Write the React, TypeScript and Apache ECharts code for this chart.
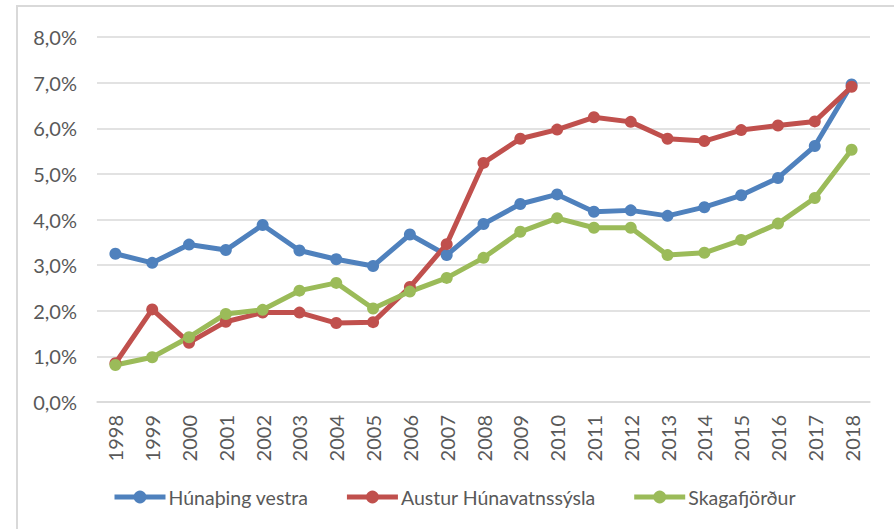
import React, { useEffect, useRef } from "react";
import * as echarts from "echarts";

const years = ["1998","1999","2000","2001","2002","2003","2004","2005","2006","2007","2008","2009","2010","2011","2012","2013","2014","2015","2016","2017","2018"];
const hunathing = [3.25,3.05,3.45,3.33,3.88,3.32,3.13,2.98,3.67,3.22,3.9,4.34,4.55,4.17,4.2,4.08,4.27,4.53,4.91,5.61,6.96];
const austur = [0.85,2.03,1.3,1.76,1.96,1.96,1.73,1.75,2.52,3.46,5.24,5.77,5.97,6.24,6.14,5.77,5.72,5.96,6.06,6.15,6.91];
const skaga = [0.81,0.98,1.42,1.93,2.02,2.44,2.61,2.05,2.42,2.72,3.16,3.73,4.03,3.82,3.82,3.22,3.27,3.55,3.91,4.47,5.53];
const seriesNames = ["Húnaþing vestra", "Austur Húnavatnssýsla", "Skagafjörður"];
const colors = ["#4F81BD", "#C0504D", "#9BBB59"];

export default function App() {
  const ref = useRef<HTMLDivElement>(null);
  useEffect(() => {
    if (!ref.current) return;
    const chart = echarts.init(ref.current, undefined, { renderer: "svg" });
    const font = "Lato, 'Open Sans', sans-serif";
    const mk = (name: string, data: number[], color: string) => ({
      name,
      type: "line",
      data,
      symbol: "circle",
      symbolSize: 12,
      showSymbol: true,
      itemStyle: { color },
      lineStyle: { color, width: 5 },
    });
    chart.setOption({
      animation: false,
      color: colors,
      textStyle: { fontFamily: font },
      graphic: [
        {
          type: "rect",
          shape: { x: 17, y: 6, width: 900, height: 600 },
          style: { fill: "none", stroke: "#d9d9d9", lineWidth: 2 },
          silent: true,
        },
      ],
      grid: { left: 97, right: 24, top: 37, bottom: 127, containLabel: false },
      xAxis: {
        type: "category",
        data: years,
        boundaryGap: true,
        axisLine: { show: true, lineStyle: { color: "#d9d9d9", width: 1.5 } },
        axisTick: { show: false },
        axisLabel: { rotate: 90, margin: 13, color: "#595959", fontSize: 20, fontFamily: font, interval: 0 },
      },
      yAxis: {
        type: "value",
        min: 0,
        max: 8,
        interval: 1,
        axisLine: { show: false },
        axisTick: { show: false },
        splitLine: { lineStyle: { color: "#d9d9d9", width: 1.5 } },
        axisLabel: {
          margin: 20,
          color: "#595959",
          fontSize: 20,
          fontFamily: font,
          formatter: (v: number) => v.toFixed(1).replace(".", ",") + "%",
        },
      },
      legend: {
        left: 107,
        top: 482,
        itemWidth: 51,
        itemHeight: 16,
        itemGap: 36,
        lineStyle: { width: 5 },
        textStyle: { color: "#595959", fontSize: 19.5, fontFamily: font, padding: [0, 0, 0, -2] },
        data: seriesNames,
      },
      series: [
        mk(seriesNames[0], hunathing, colors[0]),
        mk(seriesNames[1], austur, colors[1]),
        mk(seriesNames[2], skaga, colors[2]),
      ],
    });
    return () => chart.dispose();
  }, []);
  return (
    <div
      ref={ref}
      style={{ position: "fixed", left: 0, top: 0, width: 894, height: 529, background: "#fff" }}
    />
  );
}
